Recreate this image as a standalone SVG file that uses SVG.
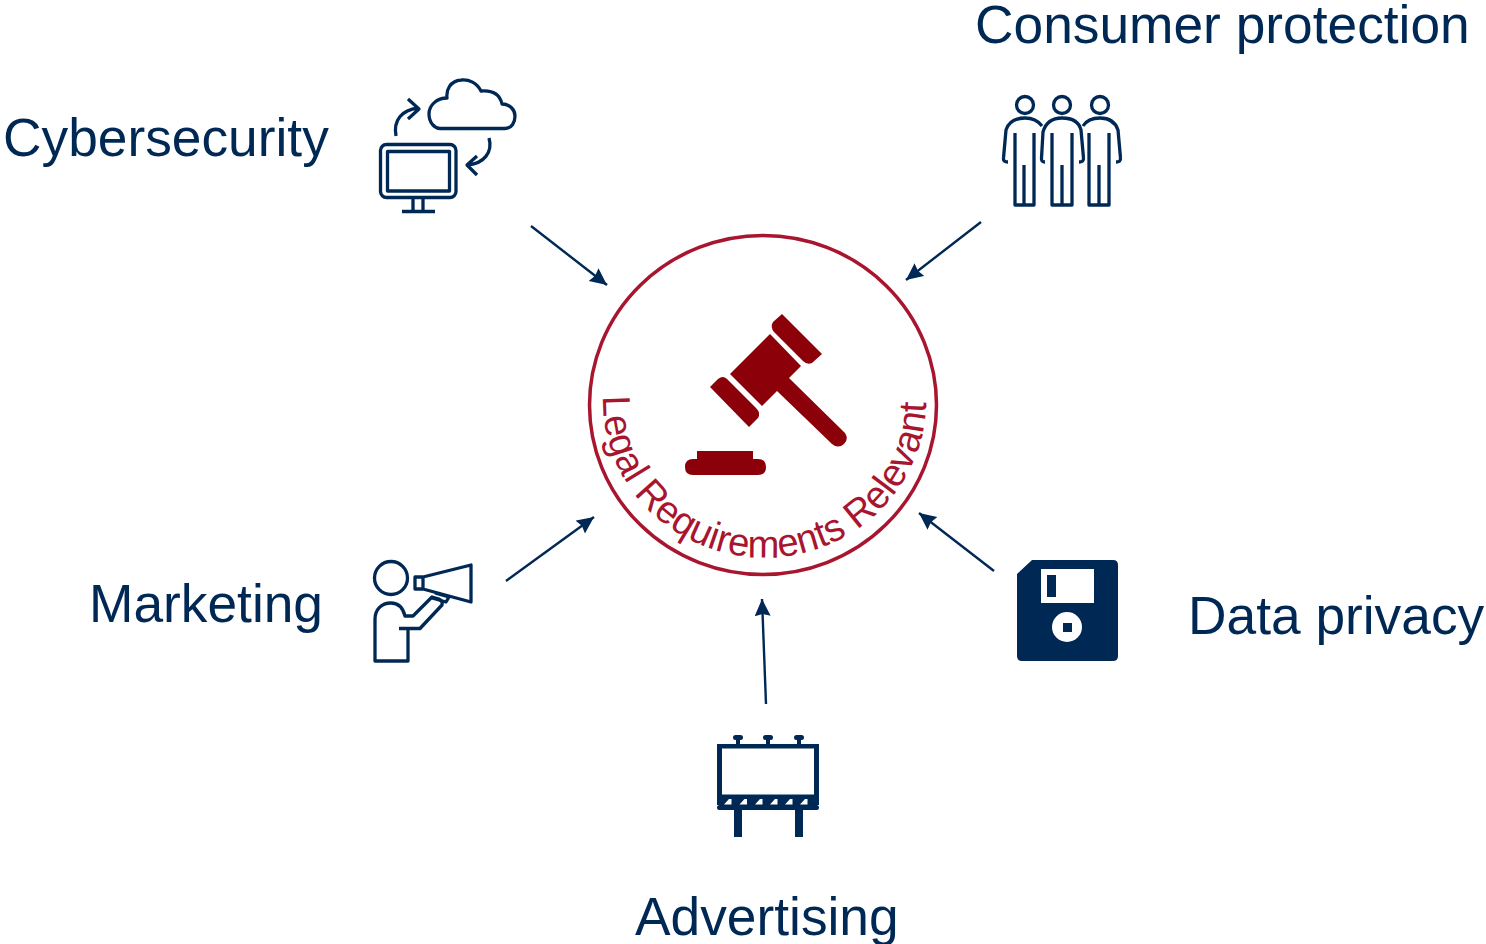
<svg xmlns="http://www.w3.org/2000/svg" xmlns:xlink="http://www.w3.org/1999/xlink" width="1486" height="944" viewBox="0 0 1486 944">
<style>
.label{font-family:"Liberation Sans",Arial,sans-serif;font-size:53.3px;fill:#002855}
.ln{fill:none;stroke:#002855;stroke-width:3.300;stroke-linejoin:round}
.sol{fill:#002855}
.wh{fill:#fff}
.gv{fill:#8b0009}
.arrow{stroke:#002855;stroke-width:2.400;fill:none;marker-end:url(#ah)}
.curve{font-family:"Liberation Sans",Arial,sans-serif;font-size:39px;fill:#a8152e}
</style>
<defs>
<marker id="ah" markerUnits="userSpaceOnUse" markerWidth="20" markerHeight="18" refX="17" refY="8" orient="auto">
<path d="M0 0L17 8L0 16L2 8Z" fill="#002855"/>
</marker>
<path id="arc" d="M603 396A161 156 0 0 0 926 406"/>
</defs>
<rect width="1486" height="944" fill="#fff"/>
<g id="connectors">
<path class="arrow" d="M531 226L607 285"/>
<path class="arrow" d="M981 222L906 280"/>
<path class="arrow" d="M506 581L594 517"/>
<path class="arrow" d="M994 571L919 513"/>
<path class="arrow" d="M766 704L762 599"/>
</g>
<g id="center">
<ellipse cx="763" cy="405" rx="173.500" ry="169.500" fill="none" stroke="#a8152e" stroke-width="3.500"/>
<path class="gv" d="M782 314L822 354L812 363Q807 365 803 361L774 332Q770 327 773 322Z"/>
<path class="gv" d="M770 334L801 366L789 378L845 433Q849 439 844 444Q838 449 832 444L777 391L762 406L730 374Z"/>
<path class="gv" d="M710 387L718 379Q723 375 727 379L756 408Q761 413 758 418L749 427Z"/>
<path class="gv" d="M697 451H753V459H758Q766 459 766 467Q766 475 758 475H693Q685 475 685 467Q685 459 693 459H697Z"/>
<text class="curve"><textPath xlink:href="#arc" href="#arc" textLength="503" lengthAdjust="spacingAndGlyphs">Legal Requirements Relevant</textPath></text>
</g>
<g id="cybersecurity">
<text class="label" x="3" y="156">Cybersecurity</text>
<path class="ln" d="M440 128.500H505C512 128.500 515 122 515 116C515 110 510 104 502 104C500 95 493 90 481 91C477 83 469 79 461 80C450 81 446 90 447 98C437 98 429 105 429 114C429 123 435 128.500 440 128.500Z"/>
<rect class="ln" x="380.500" y="144.500" width="75.500" height="53" rx="6"/>
<rect class="ln" x="387.500" y="151.500" width="62" height="39.500"/>
<path class="ln" d="M413 197V211M423 197V211M402 211.500H435"/>
<path class="ln" d="M396 136C393 120 402 110 418 108M408 99L419 109L408 119"/>
<path class="ln" d="M489 138C493 152 484 164 467 165M477 156L467 165L477 175"/>
</g>
<g id="consumer-protection">
<text class="label" x="975" y="43">Consumer protection</text>
<circle class="ln" cx="1025" cy="105" r="8.500"/>
<circle class="ln" cx="1062" cy="105" r="8.500"/>
<circle class="ln" cx="1100" cy="105" r="8.500"/>
<path class="ln" d="M1008 162Q1003 162 1003.500 158L1006 130Q1010 118 1025 118Q1036 118 1042 126"/>
<path class="ln" d="M1015 133V205H1034V133M1024 165V205"/>
<path class="ln" d="M1045 162Q1041 162 1041.500 158L1043 132Q1047 118 1062 118Q1078 118 1081 130L1083.500 158Q1084 162 1079 162"/>
<path class="ln" d="M1052 133V205H1072V133M1062 165V205"/>
<path class="ln" d="M1083 126Q1088 118 1100 118Q1114 118 1118 130L1120.500 158Q1121 162 1116 162"/>
<path class="ln" d="M1089 133V205H1109V133M1099 165V205"/>
</g>
<g id="marketing">
<text class="label" x="89" y="622">Marketing</text>
<circle class="ln" cx="391" cy="578" r="16.500"/>
<path class="ln" d="M399 628.500H420L442 605Q443 601 439 599L432 597L413 616H405C403 608 398 603 391 603C381 603 375 610 375 619V661H408V629"/>
<path class="ln" d="M423 577L471 565V602L423 589H415V577ZM423 577V589"/>
<path class="ln" d="M435 593L449 597L446 602L432 598"/>
</g>
<g id="data-privacy">
<text class="label" x="1188" y="634">Data privacy</text>
<path class="sol" d="M1032 560H1113Q1118 560 1118 565V656Q1118 661 1113 661H1022Q1017 661 1017 656V574Z"/>
<rect class="wh" x="1041" y="569" width="53" height="34"/>
<rect class="sol" x="1047" y="575" width="9" height="22"/>
<circle class="wh" cx="1067" cy="627" r="15"/>
<rect class="sol" x="1063" y="623" width="9" height="9"/>
</g>
<g id="advertising">
<text class="label" x="635" y="935">Advertising</text>
<rect class="sol" x="717" y="744" width="102" height="61"/>
<rect class="wh" x="722" y="748.500" width="92" height="46"/>
<rect class="sol" x="717" y="805" width="102" height="5" rx="2.500"/>
<rect class="sol" x="734" y="808" width="8" height="29"/>
<rect class="sol" x="795" y="808" width="8" height="29"/>
<path class="sol" d="M736 739h4v6h-4zM766 739h4v6h-4zM797 739h4v6h-4z"/>
<rect class="sol" x="733" y="735" width="10" height="5" rx="2.500"/>
<rect class="sol" x="763" y="735" width="10" height="5" rx="2.500"/>
<rect class="sol" x="794" y="735" width="10" height="5" rx="2.500"/>
<path class="wh" d="M724 804.500L729 799H731.500V804.500ZM739.500 804.500L744.500 799H747V804.500ZM755 804.500L760 799H762.500V804.500ZM770 804.500L775 799H777.500V804.500ZM785 804.500L790 799H792.500V804.500ZM800 804.500L805 799H807.500V804.500Z"/>
</g>
</svg>
